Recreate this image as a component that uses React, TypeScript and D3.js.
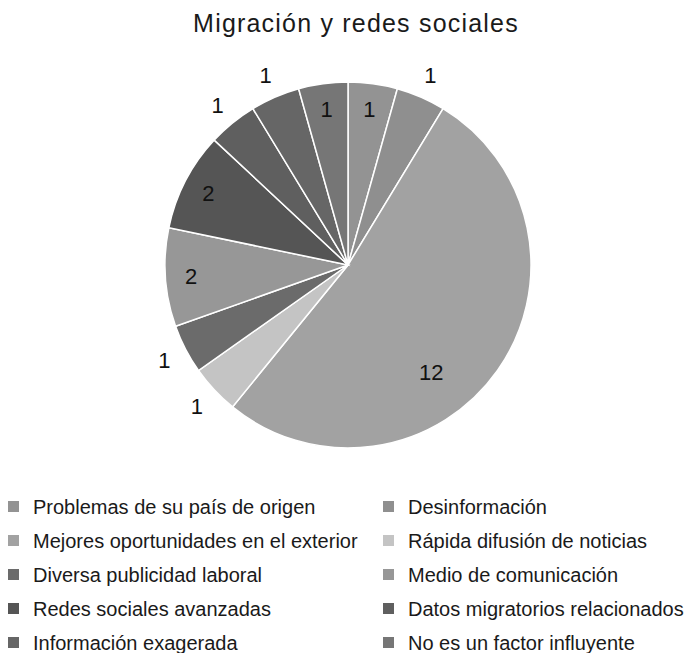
import { useMemo } from 'react'
import * as d3 from 'd3'

// Respuestas de la encuesta
const categories = [
  'Problemas de su país de origen',
  'Desinformación',
  'Mejores oportunidades en el exterior',
  'Rápida difusión de noticias',
  'Diversa publicidad laboral',
  'Medio de comunicación',
  'Redes sociales avanzadas',
  'Datos migratorios relacionados',
  'Información exagerada',
  'No es un factor influyente',
]
const values = [1, 1, 12, 1, 1, 2, 2, 1, 1, 1]
const colors = [
  '#939393', '#8f8f8f', '#a2a2a2', '#c4c4c4', '#6b6b6b',
  '#979797', '#555555', '#5f5f5f', '#666666', '#767676',
]
// where each slice label goes (inside the slice or just outside the rim)
const labelPlacement = [
  'inside', 'outside', 'inside', 'outside', 'outside',
  'inside', 'inside', 'outside', 'outside', 'inside',
]

const title = 'Migración y redes sociales'

const WIDTH = 691
const HEIGHT = 653
const FONT = '"Liberation Sans", Arial, Helvetica, sans-serif'

function PieChart() {
  const cx = 348
  const cy = 265
  const radius = 183

  const arcs = useMemo(() => {
    const pie = d3.pie<number>().sort(null).value(d => d)
    return pie(values)
  }, [])

  const arc = d3.arc<d3.PieArcDatum<number>>().innerRadius(0).outerRadius(radius)

  const labelPos = (d: d3.PieArcDatum<number>, i: number) => {
    const span = d.endAngle - d.startAngle
    let a = (d.startAngle + d.endAngle) / 2
    let r = radius * 0.86
    if (labelPlacement[i] === 'outside') r = radius * 1.13
    else if (span > Math.PI / 2) {
      // big slice: label pulled toward the lower part of the slice
      a = d.startAngle + span * 0.59
      r = radius * 0.74
    }
    return [Math.sin(a) * r, -Math.cos(a) * r]
  }

  const colLeft = 8
  const colRight = 383
  const legendTop = 507
  const rowGap = 34

  return (
    <svg width={WIDTH} height={HEIGHT} style={{ display: 'block', position: 'absolute', left: 0, top: 0 }}>
      <rect width={WIDTH} height={HEIGHT} fill="#ffffff" />
      <text
        x={356}
        y={32}
        textAnchor="middle"
        fontFamily={FONT}
        fontSize={25}
        letterSpacing={1.2}
        fill="#1a1a1a"
      >
        {title}
      </text>

      <g transform={`translate(${cx},${cy})`}>
        {arcs.map((d, i) => (
          <path
            key={categories[i]}
            d={arc(d) || ''}
            fill={colors[i]}
            stroke="#ffffff"
            strokeWidth={1.5}
          />
        ))}
        {arcs.map((d, i) => {
          const [x, y] = labelPos(d, i)
          return (
            <text
              key={`l-${i}`}
              x={x}
              y={y}
              dy="0.36em"
              textAnchor="middle"
              fontFamily={FONT}
              fontSize={22}
              fill="#111111"
            >
              {values[i]}
            </text>
          )
        })}
      </g>

      <g fontFamily={FONT} fontSize={20} fill="#1a1a1a">
        {categories.map((c, i) => {
          const col = i % 2
          const row = Math.floor(i / 2)
          const x = col === 0 ? colLeft : colRight
          const y = legendTop + row * rowGap
          return (
            <g key={c} transform={`translate(${x},${y})`}>
              <rect x={0} y={-6} width={11} height={11} fill={colors[i]} />
              <text x={25} y={0} dy="0.35em">
                {c}
              </text>
            </g>
          )
        })}
      </g>
    </svg>
  )
}

export default function App() {
  return <PieChart />
}
